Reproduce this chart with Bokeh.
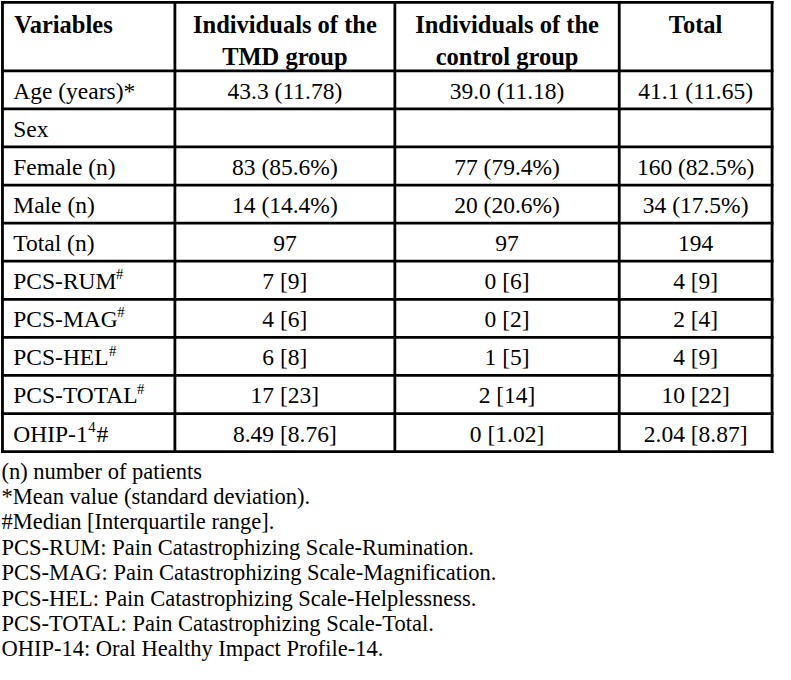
from bokeh.plotting import figure
from bokeh.models import ColumnDataSource, Range1d
from bokeh.core.properties import value
from bokeh.embed import file_html
from bokeh.resources import INLINE

# ---------------- data ----------------
header_line1 = ["Variables", "Individuals of the", "Individuals of the", "Total"]
header_line2 = ["", "TMD group", "control group", ""]
variables = ["Age (years)*", "Sex", "Female (n)", "Male (n)", "Total (n)",
             "PCS-RUM", "PCS-MAG", "PCS-HEL", "PCS-TOTAL", "OHIP-1"]
var_sup = ["", "", "", "", "", "#", "#", "#", "#", "4"]
var_tail = ["", "", "", "", "", "", "", "", "", "#"]
tmd_group = ["43.3 (11.78)", "", "83 (85.6%)", "14 (14.4%)", "97",
             "7 [9]", "4 [6]", "6 [8]", "17 [23]", "8.49 [8.76]"]
control_group = ["39.0 (11.18)", "", "77 (79.4%)", "20 (20.6%)", "97",
                 "0 [6]", "0 [2]", "1 [5]", "2 [14]", "0 [1.02]"]
total_all = ["41.1 (11.65)", "", "160 (82.5%)", "34 (17.5%)", "194",
             "4 [9]", "2 [4]", "4 [9]", "10 [22]", "2.04 [8.87]"]
footnotes = [
    "(n) number of patients",
    "*Mean value (standard deviation).",
    "#Median [Interquartile range].",
    "PCS-RUM: Pain Catastrophizing Scale-Rumination.",
    "PCS-MAG: Pain Catastrophizing Scale-Magnification.",
    "PCS-HEL: Pain Catastrophizing Scale-Helplessness.",
    "PCS-TOTAL: Pain Catastrophizing Scale-Total.",
    "OHIP-14: Oral Healthy Impact Profile-14.",
]

# ---------------- layout ----------------
FONT = "Liberation Serif"
col_edges = [2, 178, 402.5, 631.5, 787.5]
table_top = 2
header_bottom = 72
row_h = 39
n_rows = len(variables)
table_bottom = header_bottom + row_h * n_rows
body_size = 24.0   # in reference pixels
head_size = 25.0
foot_size = 23.0
sup_size = 15.0
scale = 775 / 791

def px(s):
    return "%.1fpx" % (s * scale)

# Times / Liberation Serif advance widths (per 1000 em) and kerning pairs
W = {"P": 556, "C": 667, "S": 556, "-": 333, "R": 667, "U": 722, "M": 889,
     "A": 722, "G": 722, "H": 722, "E": 611, "L": 611, "T": 611, "O": 722,
     "I": 333, "1": 500, "4": 500, "#": 500}
K = {"TO": -18, "OT": -40, "TA": -93, "RU": -40, "AG": -40, "AL": 0}

def text_w(s, size):
    w = sum(W.get(c, 500) for c in s)
    w += sum(K.get(s[i:i + 2], 0) for i in range(len(s) - 1))
    return w / 1000.0 * size

p = figure(width=775, height=664, output_backend="svg", toolbar_location=None,
           x_range=Range1d(0, 791), y_range=Range1d(680, 0),
           min_border=0, background_fill_color="white", border_fill_color="white")
p.axis.visible = False
p.grid.visible = False
p.outline_line_color = None

# grid lines
xs, ys = [], []
for xe in col_edges:
    xs.append([xe, xe]); ys.append([table_top, table_bottom])
hl = [table_top, header_bottom] + [header_bottom + row_h * (i + 1) for i in range(n_rows)]
for yh in hl:
    xs.append([col_edges[0], col_edges[-1]]); ys.append([yh, yh])
p.multi_line(xs=xs, ys=ys, line_color="black", line_width=2.8, line_cap="square")

centers = [(col_edges[i] + col_edges[i + 1]) / 2 for i in range(len(col_edges) - 1)]

# header
hx, hy, ht, ha = [], [], [], []
for i in range(4):
    x = col_edges[0] + 12 if i == 0 else centers[i]
    al = "left" if i == 0 else "center"
    hx.append(x); hy.append(25); ht.append(header_line1[i]); ha.append(al)
    if header_line2[i]:
        hx.append(x); hy.append(57); ht.append(header_line2[i]); ha.append(al)
p.text(x="x", y="y", text="t", text_align="a",
       source=ColumnDataSource(dict(x=hx, y=hy, t=ht, a=ha)),
       text_font=value(FONT), text_font_style="bold", text_font_size=px(head_size),
       text_baseline="middle", text_color="black")

# body
row_y = [header_bottom + row_h * (i + 0.5) + 1 for i in range(n_rows)]
left_x = col_edges[0] + 11
p.text(x=[left_x] * n_rows, y=row_y, text=variables,
       text_font=value(FONT), text_font_size=px(body_size),
       text_align="left", text_baseline="middle", text_color="black")
for ci, col in enumerate([tmd_group, control_group, total_all]):
    p.text(x=[centers[ci + 1]] * n_rows, y=row_y, text=col,
           text_font=value(FONT), text_font_size=px(body_size),
           text_align="center", text_baseline="middle", text_color="black")

# superscripts
sx, sy, st, tx, ty, tt = [], [], [], [], [], []
for i, s in enumerate(var_sup):
    if s:
        xw = left_x + text_w(variables[i], body_size) + 0.5
        sx.append(xw); sy.append(row_y[i] - 7); st.append(s)
        if var_tail[i]:
            tx.append(xw + text_w(s, sup_size) + 1); ty.append(row_y[i]); tt.append(var_tail[i])
p.text(x=sx, y=sy, text=st, text_font=value(FONT), text_font_size=px(sup_size),
       text_align="left", text_baseline="middle", text_color="black")
p.text(x=tx, y=ty, text=tt, text_font=value(FONT), text_font_size=px(body_size),
       text_align="left", text_baseline="middle", text_color="black")

# footnotes
fy = [482 + 26 * k for k in range(len(footnotes))]
p.text(x=[1] * len(footnotes), y=fy, text=footnotes,
       text_font=value(FONT), text_font_size=px(foot_size),
       text_align="left", text_baseline="middle", text_color="black")

open("out.html", "w").write(file_html(p, INLINE))
